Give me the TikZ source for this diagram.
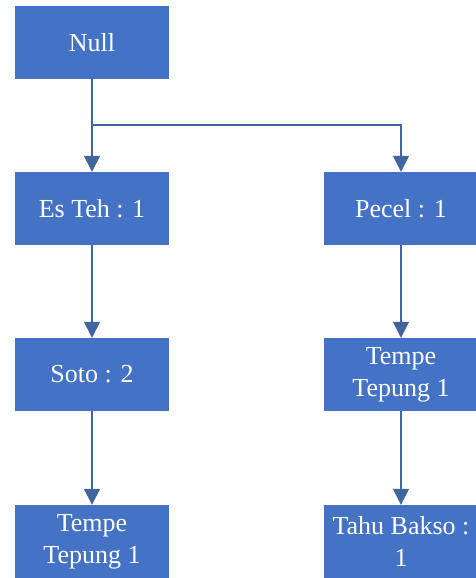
\documentclass[tikz,border=0pt]{standalone}
\usepackage{fontspec}
\setmainfont{Liberation Serif}
\usetikzlibrary{arrows.meta}
\definecolor{boxblue}{HTML}{4472C4}
\definecolor{lineblue}{HTML}{41659F}
\begin{document}
\begin{tikzpicture}[x=1pt,y=-1pt,
  box/.style={fill=boxblue,draw=none,minimum width=154pt,minimum height=73pt,
    inner sep=0pt,text=white,align=center,font=\fontsize{26}{32}\selectfont},
  conn/.style={draw=lineblue,line width=1.4pt,-{Triangle[width=16pt,length=16pt,fill=lineblue]}}]
\useasboundingbox[fill=white] (0,0) rectangle (476,578);
\node[box] (null) at (92,42.5) {Null};
\node[box] (esteh) at (92,208.5) {Es Teh : 1};
\node[box] (pecel) at (401,208.5) {Pecel : 1};
\node[box] (soto) at (92,374.5) {Soto : 2};
\node[box] (tempeR) at (401,374.5) {Tempe\\Tepung 1};
\node[box] (tempeL) at (92,541.5) {Tempe\\Tepung 1};
\node[box] (tahu) at (401,541.5) {Tahu Bakso :\\1};
\coordinate (j) at (92,125);
\draw[conn] (null.south) -- (esteh.north);
\draw[conn] (j) -| (pecel.north);
\draw[conn] (esteh.south) -- (soto.north);
\draw[conn] (soto.south) -- (tempeL.north);
\draw[conn] (pecel.south) -- (tempeR.north);
\draw[conn] (tempeR.south) -- (tahu.north);
\end{tikzpicture}
\end{document}
